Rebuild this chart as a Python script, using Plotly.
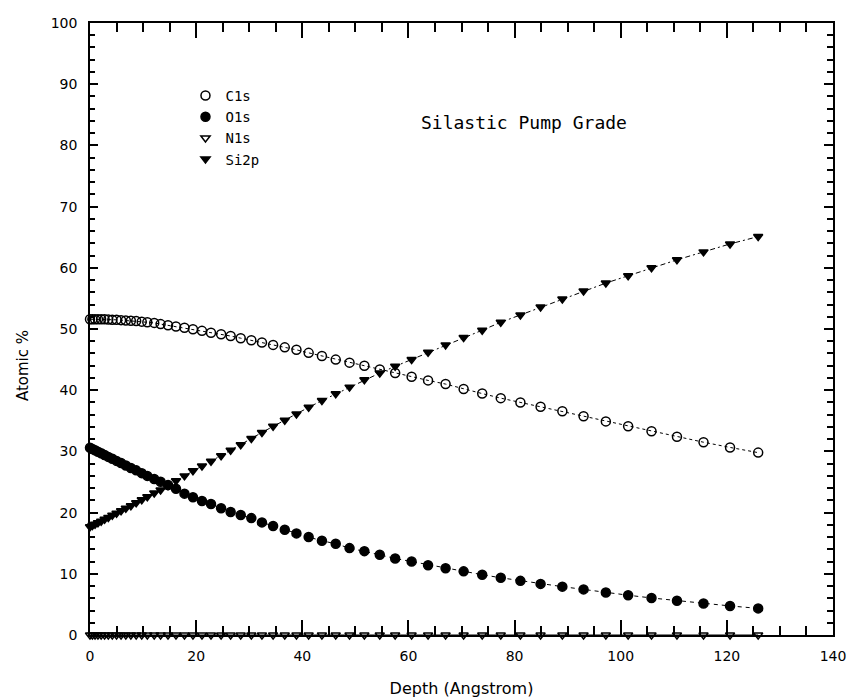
import plotly.graph_objects as go

depth = [0, 0.45, 0.95, 1.5, 2.1, 2.75, 3.45, 4.2, 5.0, 5.85, 6.75, 7.7, 8.7, 9.75,
         10.8, 12.1, 13.3, 14.7, 16.2, 17.8, 19.4, 21.1, 22.8, 24.7, 26.5, 28.4,
         30.4, 32.4, 34.5, 36.7, 38.9, 41.2, 43.7, 46.3, 48.9, 51.7, 54.6, 57.5,
         60.6, 63.7, 67.0, 70.4, 73.9, 77.4, 81.1, 84.9, 89.0, 93.0, 97.2, 101.4,
         105.8, 110.6, 115.6, 120.6, 125.9]

c1s = [51.6, 51.6, 51.6, 51.6, 51.6, 51.6, 51.55, 51.5, 51.5, 51.45, 51.4, 51.35, 51.3, 51.2,
       51.1, 51.0, 50.8, 50.6, 50.4, 50.2, 49.95, 49.7, 49.4, 49.15, 48.85, 48.5,
       48.15, 47.8, 47.4, 47.0, 46.6, 46.1, 45.6, 45.0, 44.5, 44.0, 43.4, 42.8,
       42.2, 41.6, 41.0, 40.2, 39.45, 38.7, 38.0, 37.3, 36.55, 35.75, 34.9, 34.1,
       33.3, 32.4, 31.5, 30.65, 29.8]

o1s = [30.6, 30.4, 30.2, 29.95, 29.7, 29.4, 29.1, 28.8, 28.45, 28.1, 27.7, 27.3, 26.9, 26.45,
       26.0, 25.5, 25.05, 24.5, 23.9, 23.1, 22.5, 21.9, 21.4, 20.7, 20.1, 19.6,
       19.1, 18.4, 17.8, 17.2, 16.6, 16.0, 15.4, 14.9, 14.2, 13.7, 13.1, 12.5,
       12.0, 11.4, 10.9, 10.4, 9.85, 9.35, 8.85, 8.35, 7.9, 7.45, 6.95, 6.5,
       6.05, 5.6, 5.15, 4.75, 4.35]

n1s = [0.0] * len(depth)

si2p = [17.7, 17.9, 18.1, 18.35, 18.6, 18.9, 19.2, 19.55, 19.9, 20.3, 20.7, 21.1, 21.6, 22.1,
        22.6, 23.2, 23.7, 24.4, 25.2, 26.0, 26.85, 27.6, 28.4, 29.3, 30.2, 31.1,
        32.1, 33.1, 34.1, 35.1, 36.1, 37.2, 38.3, 39.4, 40.5, 41.7, 42.8, 43.9,
        45.0, 46.2, 47.4, 48.6, 49.8, 51.1, 52.3, 53.6, 54.9, 56.2, 57.5, 58.7,
        60.0, 61.3, 62.6, 63.9, 65.1]

x_ticks = [0, 20, 40, 60, 80, 100, 120, 140]
y_ticks = [0, 10, 20, 30, 40, 50, 60, 70, 80, 90, 100]

series = [
    ("C1s", c1s, "circle-open", 9, "3px,3px"),
    ("O1s", o1s, "circle", 9, "4px,4px"),
    ("N1s", n1s, "triangle-down-open", 8, "solid"),
    ("Si2p", si2p, "triangle-down", 8, "2px,3px,5px,3px"),
]

INK = "#000000"

fig = go.Figure()
for name, ys, sym, sz, dash in series:
    fig.add_trace(go.Scatter(
        x=depth, y=ys, mode="lines+markers", name=name, showlegend=False,
        line=dict(color=INK, width=1, dash=dash),
        marker=dict(symbol=sym, size=sz, color=INK,
                    line=dict(color=INK, width=1.5)),
        cliponaxis=False,
    ))
for name, ys, sym, sz, dash in series:
    fig.add_trace(go.Scatter(
        x=[None], y=[None], mode="markers", name=name, showlegend=True,
        marker=dict(symbol=sym, size=sz, color=INK,
                    line=dict(color=INK, width=1.5)),
    ))
# empty trace so the mirrored tick axes (top / right) are drawn
fig.add_trace(go.Scatter(x=[None], y=[None], xaxis="x2", yaxis="y2",
                         mode="markers", showlegend=False, hoverinfo="skip"))

fig.add_annotation(x=61.9, y=83.7, xref="x", yref="y", text="Silastic Pump Grade",
                   showarrow=False, xanchor="left", yanchor="middle",
                   font=dict(family="DejaVu Sans Mono", size=18, color=INK))

fig.add_annotation(x=-0.091, y=0.44, xref="paper", yref="paper", text="Atomic %",
                   showarrow=False, textangle=-90, xanchor="center", yanchor="middle",
                   font=dict(family="DejaVu Sans", size=15, color=INK))

tickfont = dict(family="DejaVu Sans", size=14, color=INK)
common = dict(showgrid=False, zeroline=False, ticks="inside", automargin=False)

fig.update_layout(
    xaxis=dict(range=[0, 140], tickvals=x_ticks, ticklen=15, tickwidth=1.5, tickcolor=INK,
               showline=True, linecolor=INK, linewidth=1.5, mirror=True,
               minor=dict(dtick=5, ticklen=9, ticks="inside", tickcolor=INK, tickwidth=1.5),
               tickfont=tickfont, ticklabelstandoff=7,
               title=dict(text="Depth (Angstrom)", standoff=21,
                          font=dict(family="DejaVu Sans", size=16, color=INK)),
               **common),
    yaxis=dict(range=[0, 100], tickvals=y_ticks, ticklen=8, tickwidth=1.5, tickcolor=INK,
               showline=True, linecolor=INK, linewidth=1.5, mirror=True,
               minor=dict(dtick=2, ticklen=5, ticks="inside", tickcolor=INK, tickwidth=1.5),
               tickfont=tickfont, ticklabelstandoff=8,
               **common),
    xaxis2=dict(range=[0, 140], overlaying="x", side="top", anchor="y2",
                tickvals=x_ticks, ticklen=15, tickwidth=1.5, tickcolor=INK,
                showticklabels=False, showline=False,
                minor=dict(dtick=5, ticklen=9, ticks="inside", tickcolor=INK, tickwidth=1.5),
                **common),
    yaxis2=dict(range=[0, 100], overlaying="y", side="right", anchor="x2",
                tickvals=y_ticks, ticklen=9, tickwidth=1.5, tickcolor=INK,
                showticklabels=False, showline=False,
                minor=dict(dtick=2, ticklen=6, ticks="inside", tickcolor=INK, tickwidth=1.5),
                **common),
    width=853, height=698,
    margin=dict(l=89.5, r=20, t=23, b=63, pad=0),
    plot_bgcolor="white", paper_bgcolor="white",
    showlegend=True,
    legend=dict(x=0.1285, y=0.907, xanchor="left", yanchor="top",
                bgcolor="rgba(0,0,0,0)", borderwidth=0,
                font=dict(family="DejaVu Sans Mono", size=14, color=INK),
                itemwidth=30, tracegroupgap=0),
)

fig.write_html("out.html")
